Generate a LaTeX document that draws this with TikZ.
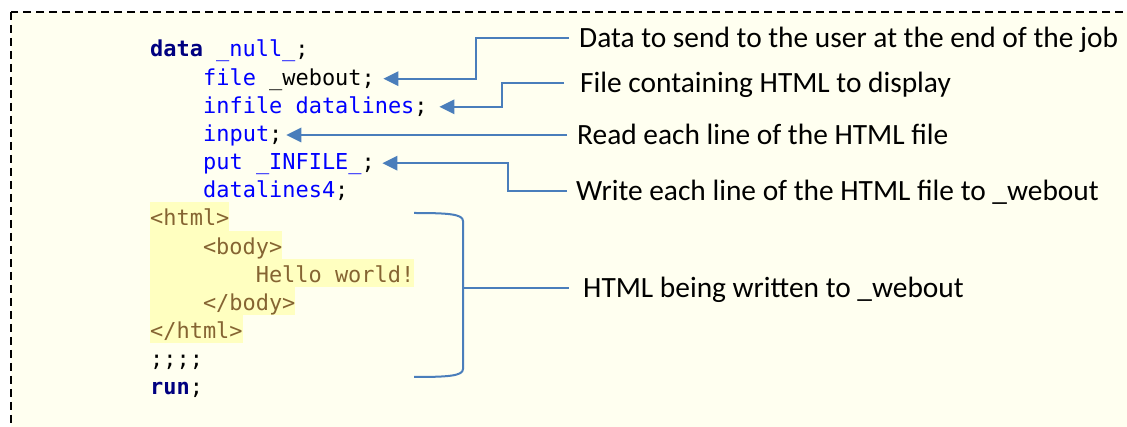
\documentclass[tikz,border=0pt]{standalone}
\usepackage{fontspec}
\setmainfont{Carlito}
\newfontfamily\codefont{DejaVu Sans Mono}
\definecolor{paper}{RGB}{255,255,240}
\definecolor{hlyellow}{RGB}{255,255,192}
\definecolor{kwnavy}{RGB}{0,0,128}
\definecolor{kwblue}{RGB}{0,0,255}
\definecolor{tagbrown}{RGB}{133,100,50}
\definecolor{linkblue}{RGB}{74,126,187}
\newcommand{\kw}[1]{\textbf{\textcolor{kwnavy}{#1}}}
\newcommand{\sas}[1]{\textcolor{kwblue}{#1}}

\begin{document}
\begin{tikzpicture}[x=1pt,y=1pt]
    \tikzstyle{every node}+=[inner sep=0pt]
    \tikzstyle{code}=[font=\codefont\fontsize{21.93}{28}\selectfont, anchor=base west, text height=13pt, text depth=0pt]
    \tikzstyle{tag}=[code, text=tagbrown, fill=hlyellow, text height=23.5pt, text depth=4.67pt]
    \tikzstyle{note}=[font=\fontsize{29.4}{34}\selectfont, anchor=west, text height=19pt, text depth=0pt]
    \tikzstyle{link}=[linkblue, line width=2pt]
    \clip (0,0) rectangle (1127,-427);
    % frame
    \draw [black, line width=1.5pt, dash pattern=on 8pt off 5pt, fill=paper] (11,-12) rectangle (1140,-440);
    % program lines
    \node [code] (data) at (150,-57) {\kw{data} \sas{\_null\_};};
    \node [code] (file) at (203,-85.2) {\sas{file} \_webout;};
    \node [code] (infile) at (203,-113.3) {\sas{infile datalines};};
    \node [code] (input) at (203,-141.5) {\sas{input};};
    \node [code] (put) at (203,-169.7) {\sas{put \_INFILE\_};};
    \node [code] (cards) at (203,-197.9) {\sas{datalines4};};
    \node [tag] (html) at (150,-226) {<html>};
    \node [tag] (body) at (150,-254.2) {\hphantom{0000}<body>};
    \node [tag] (hello) at (150,-282.4) {\hphantom{00000000}Hello world!};
    \node [tag] (endbody) at (150,-310.5) {\hphantom{0000}</body>};
    \node [tag] (endhtml) at (150,-338.7) {</html>};
    \node [code] (semis) at (150,-366.9) {;;;;};
    \node [code] (run) at (150,-395) {\kw{run};};
    % notes
    \node [note] (send) at (579,-38) {Data to send to the user at the end of the job};
    \node [note] (containing) at (580,-83) {File containing HTML to display};
    \node [note] (read) at (577,-135) {Read each line of the HTML file};
    \node [note] (write) at (576,-191) {Write each line of the HTML file to \_webout};
    \node [note] (written) at (583,-288) {HTML being written to \_webout};
    % arrows
    \coordinate (t1) at ([xshift=8.4pt]file.east);
    \draw [link] ([xshift=-10pt]send.west) -- ++(-93,0) |- ([xshift=14pt]t1);
    \fill [linkblue] (t1) -- ++(15,7.5) -- ++(0,-15) -- cycle;
    \coordinate (t2) at ([xshift=11.6pt]infile.east);
    \draw [link] ([xshift=-16pt]containing.west) -- ++(-62,0) |- ([xshift=14pt]t2);
    \fill [linkblue] (t2) -- ++(15,7.5) -- ++(0,-15) -- cycle;
    \coordinate (t3) at ([xshift=3.8pt]input.east);
    \draw [link] ([xshift=-10pt]read.west) -- ([xshift=14pt]t3);
    \fill [linkblue] (t3) -- ++(15,7.5) -- ++(0,-15) -- cycle;
    \coordinate (t4) at ([xshift=7.4pt]put.east);
    \draw [link] ([xshift=-9pt]write.west) -- ++(-59,0) |- ([xshift=14pt]t4);
    \fill [linkblue] (t4) -- ++(15,7.5) -- ++(0,-15) -- cycle;
    % bracket round the html
    \coordinate (mid) at (463,-288);
    \draw [link] (414,-213) .. controls (448,-213) and (463,-214) .. (463,-221) -- (463,-369) .. controls (463,-376) and (448,-377) .. (414,-377);
    \draw [link] (mid) -- ([xshift=-14pt]written.west);
\end{tikzpicture}
\end{document}
